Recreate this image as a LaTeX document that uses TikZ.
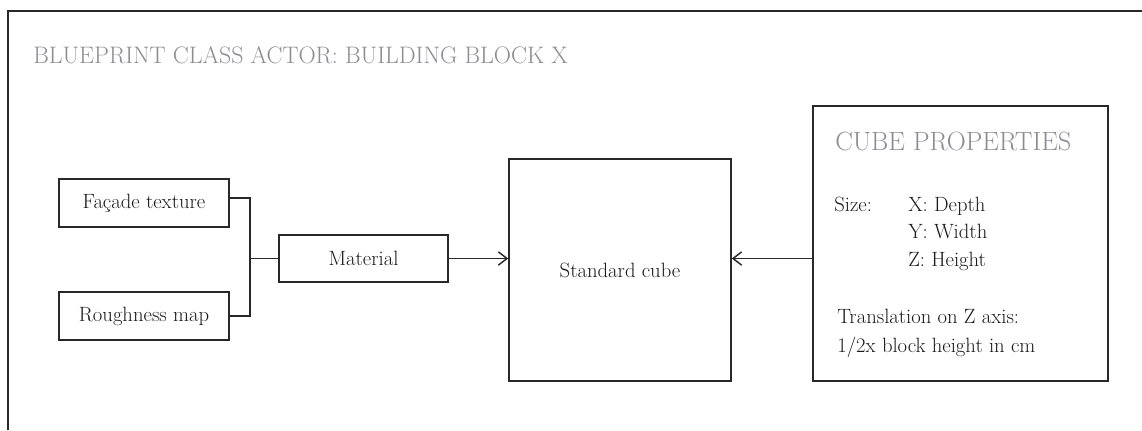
\documentclass[tikz,border=0pt]{standalone}
\usepackage{fontspec}
\usetikzlibrary{arrows.meta}
\definecolor{headgray}{RGB}{140,140,146}
\definecolor{linegray}{RGB}{40,40,40}
\newcommand{\bodyfont}{\fontsize{15.5}{18}\selectfont}
\newcommand{\headfont}{\fontsize{17.9}{21}\selectfont}
\tikzset{
  blockbox/.style={draw=linegray, line width=1.2pt, inner sep=0pt, font=\bodyfont, text=black!90},
  bodytext/.style={anchor=base west, inner sep=0pt, font=\bodyfont, text=black!90},
  heading/.style={anchor=base west, inner sep=0pt, font=\headfont, text=headgray},
  link/.style={draw=linegray, line width=1.1pt},
  framerule/.style={draw=linegray, line width=1.1pt},
  >={Straight Barb[length=6.5pt,width=10pt]}
}
\begin{document}
\begin{tikzpicture}[x=0.75pt,y=-0.75pt]
\useasboundingbox (0,0) rectangle (1142,430);
% outer frame, only its top and left edges are shown
\draw[framerule] (8,430) |- (1142,11);
\node[heading] (title) at (33,63) {BLUEPRINT CLASS ACTOR: BUILDING BLOCK X};

% blocks
\node[blockbox, minimum width=127.5pt, minimum height=36pt] (facade) at (144,203) {Façade texture};
\node[blockbox, minimum width=127.5pt, minimum height=36pt] (rough) at (144,316) {Roughness map};
\node[blockbox, minimum width=126.75pt, minimum height=35.25pt] (material) at (363.5,258.5) {Material};
\node[blockbox, minimum size=166.5pt] (cube) at (620,270) {Standard cube};
\node[blockbox, minimum width=221.25pt, minimum height=206.25pt] (props) at (960.5,243.5) {};

% textures join into the material
\coordinate (fork) at (250,258.5);
\draw[link] ([yshift=3.75pt]facade.east) -| (fork) |- (rough.east);
\draw[link] (fork) -- (material.west);
\draw[link,->] (material.east) -- (material.east -| cube.west);
\draw[link,->] (props.west |- material.east) -- (cube.east |- material.east);

% text inside the properties box
\node[heading, font=\fontsize{19.8}{23}\selectfont] (propstitle) at (835,150) {CUBE PROPERTIES};
\node[bodytext] (size) at (834,211) {Size:};
\foreach \dim [count=\i] in {X: Depth, Y: Width, Z: Height}
  \node[bodytext] (dim\i) at (908,{211+27.5*(\i-1)}) {\dim};
\node[bodytext] (trans) at (837,323) {Translation on Z axis:};
\node[bodytext] (half) at (837,352) {1/2x block height in cm};
\end{tikzpicture}
\end{document}
